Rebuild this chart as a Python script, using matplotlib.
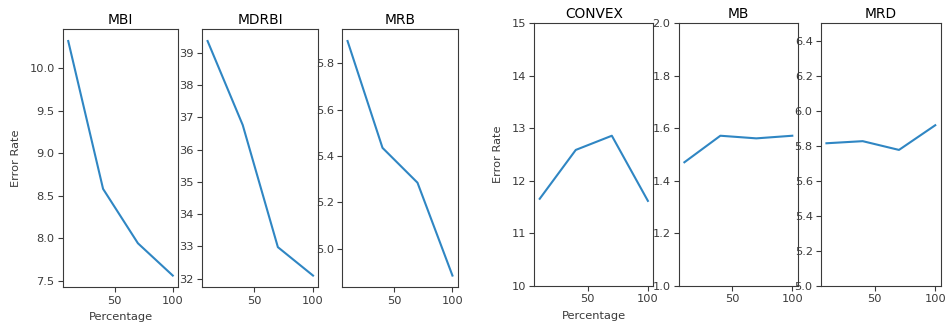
import matplotlib
matplotlib.use("Agg")
import matplotlib.pyplot as plt

# Percentages used for every panel
percent = [10, 40, 70, 100]

# Error rates
mbi = [10.32, 8.58, 7.94, 7.56]
mdrbi = [39.36, 36.76, 32.98, 32.10]
mrb = [5.895, 5.435, 5.285, 4.885]
convex = [11.66, 12.59, 12.86, 11.62]
mb = [1.471, 1.572, 1.562, 1.572]
mrd = [5.815, 5.827, 5.777, 5.918]

W, H = 946, 324
fig = plt.figure(figsize=(W / 100, H / 100), dpi=100)

TICK = 8.2
TITLE = 9.9
blue = '#2f86c3'
grey = '#3a3a3a'


def box(x0, x1, top, bottom):
    return [x0 / W, (H - bottom) / H, (x1 - x0) / W, (bottom - top) / H]


panels = [
    ("MBI", mbi, box(63, 178, 29.3, 287.3), None),
    ("MDRBI", mdrbi, box(202.3, 318.3, 29.3, 287.3), None),
    ("MRB", mrb, box(342.3, 457.7, 29.3, 287.3), None),
    ("CONVEX", convex, box(534.3, 653.3, 23.3, 286), (10, 15)),
    ("MB", mb, box(679, 797.7, 23.3, 286), (1.0, 2.0)),
    ("MRD", mrd, box(821, 940.7, 23.3, 286), (5.0, 6.5)),
]

for i, (name, vals, pos, ylim) in enumerate(panels):
    ax = fig.add_axes(pos)
    ax.plot(percent, vals, color=blue, lw=1.5)
    ax.set_title(name, fontsize=TITLE, pad=4)
    ax.set_xticks([50, 100])
    if ylim is not None:
        ax.set_ylim(*ylim)
    ax.tick_params(labelsize=TICK, colors=grey, length=3.5, pad=2.5)
    for s in ax.spines.values():
        s.set_color(grey)
        s.set_linewidth(0.8)
    if i in (0, 3):
        ax.set_ylabel("Error Rate", fontsize=TICK, color=grey, labelpad=6)
        ax.set_xlabel("Percentage", fontsize=TICK, color=grey, labelpad=4.5)

fig.savefig("out.png", dpi=100)
